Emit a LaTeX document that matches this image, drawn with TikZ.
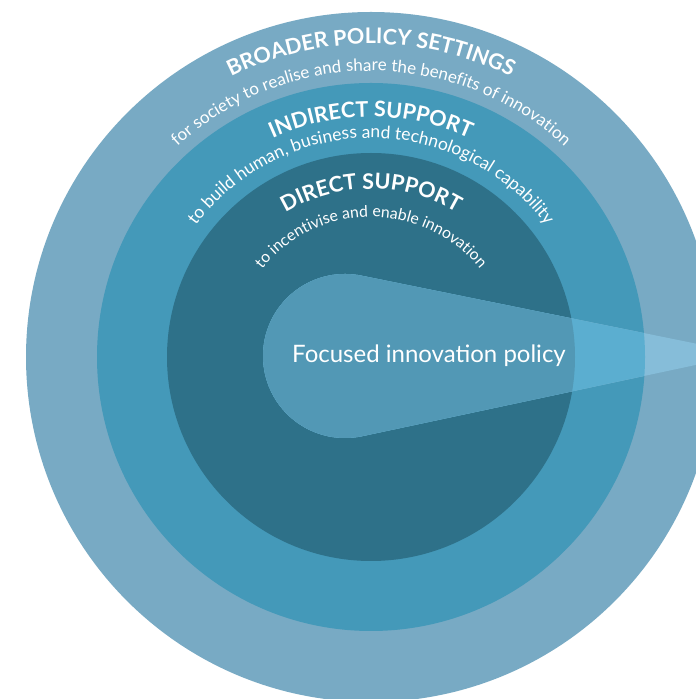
\documentclass[tikz,border=0pt]{standalone}
\usepackage{fontspec}
\setmainfont{Lato}
\usetikzlibrary{decorations.text}
\definecolor{outerc}{RGB}{120,170,196}
\definecolor{midc}{RGB}{68,153,185}
\definecolor{innerc}{RGB}{46,113,137}
\definecolor{beamA}{RGB}{82,152,181}
\definecolor{beamB}{RGB}{91,174,208}
\definecolor{beamC}{RGB}{134,189,217}
\newcommand\headfnt[1]{\fontsize{#1}{#1}\selectfont\bfseries\color{white}}
\newcommand\subfnt[1]{\fontsize{#1}{#1}\selectfont\color{white}}
\tikzset{
  arctext/.style={decorate, decoration={text along path, text align=center, text={#1}}}
}
\begin{document}
\begin{tikzpicture}[x=1pt,y=1pt]
\clip (0,0) rectangle (696,699);
\fill[white] (0,0) rectangle (696,699);
\coordinate (C) at (371,342);
\coordinate (O) at (345,343);
\coordinate (P) at (747,345);
% rings
\fill[outerc] (C) circle[radius=345];
\fill[midc] (C) circle[radius=274];
\fill[innerc] (C) circle[radius=204];
% beam
\def\beampath{(P) -- ([shift={(78.2:82)}]O) arc[start angle=78.2, end angle=281.8, radius=82] -- cycle}
\fill[beamC] \beampath;
\begin{scope}
  \clip (C) circle[radius=274];
  \fill[beamB] \beampath;
\end{scope}
\begin{scope}
  \clip (C) circle[radius=204];
  \fill[beamA] \beampath;
\end{scope}
% curved labels
\path[arctext={|\headfnt{21.5}|BROADER POLICY SETTINGS}] ([shift={(160:313)}]C) arc[start angle=160, end angle=20, radius=313];
\path[arctext={|\subfnt{17}|for society to realise and share the benefits of innovation}] ([shift={(170:286)}]C) arc[start angle=170, end angle=10, radius=286];
\path[arctext={|\headfnt{21.5}|INDIRECT SUPPORT}] ([shift={(165:240)}]C) arc[start angle=165, end angle=15, radius=240];
\path[arctext={|\subfnt{17.5}|to build human, business and technological capability}] ([shift={(175:219)}]C) arc[start angle=175, end angle=5, radius=219];
\path[arctext={|\headfnt{21.5}|DIRECT SUPPORT}] ([shift={(170:168)}]C) arc[start angle=170, end angle=10, radius=168];
\path[arctext={|\subfnt{15.8}|to incentivise and enable innovation}] ([shift={(175:140)}]C) arc[start angle=175, end angle=5, radius=140];
\node[text=white, font=\fontsize{24}{24}\selectfont] (focus) at (429,343) {Focused innovation policy};
\end{tikzpicture}
\end{document}
